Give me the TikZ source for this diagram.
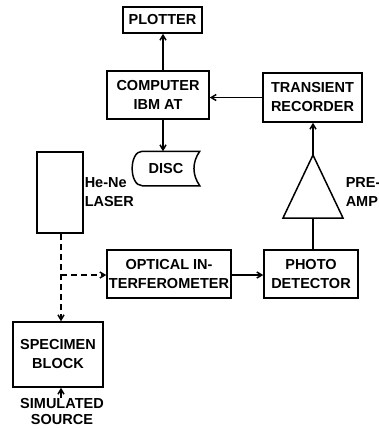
\documentclass[tikz,border=0pt]{standalone}
\usepackage{fontspec}
\setmainfont{Liberation Sans}
\usepackage{tikz}
\usetikzlibrary{arrows.meta}

\begin{document}
\begin{tikzpicture}[x=1pt, y=-1pt, line width=1.5pt, >={Straight Barb[length=5pt,width=6pt]},
  every node/.style={font=\bfseries\fontsize{14.5}{19}\selectfont, align=center, inner sep=0pt},
  blk/.style={draw, rectangle}, beam/.style={dash pattern=on 6pt off 4pt}]
\useasboundingbox (0,0) rectangle (379,429);
\node[blk, minimum width=79pt, minimum height=26pt] (plotter) at (162.5,20) {PLOTTER};
\node[blk, minimum width=102pt, minimum height=48pt] (computer) at (158,95) {COMPUTER\\IBM AT};
\node[blk, minimum width=99pt, minimum height=49pt] (recorder) at (312.5,97.5) {TRANSIENT\\RECORDER};
\node[minimum width=66pt, minimum height=33pt] (disc) at (166,168.5) {DISC};
\node[blk, minimum width=46pt, minimum height=81pt] (laser) at (60,192.5) {};
\node[anchor=west, align=left] (lasertxt) at (84,192) {He-Ne\\LASER};
\node[blk, minimum width=124pt, minimum height=48pt] (optic) at (169,274) {OPTICAL IN-\\TERFEROMETER};
\node[blk, minimum width=94pt, minimum height=48pt] (detector) at (311,274) {PHOTO\\DETECTOR};
\node[blk, minimum width=90pt, minimum height=65pt] (specimen) at (58,354.5) {SPECIMEN\\BLOCK};
\node[font=\bfseries\fontsize{14.5}{16}\selectfont] (source) at (62,412) {SIMULATED\\SOURCE};
\node[anchor=west, align=left] (amptxt) at (345,192) {PRE-\\AMP};
\coordinate (amptop) at (313,155);
\coordinate (ampbot) at (313,218);
\coordinate (split) at (61,275);

% disc outline
\draw ([xshift=10pt]disc.north west) to[out=180,in=180] ([xshift=10pt]disc.south west)
  -- (disc.south east) to[out=125,in=235] (disc.north east) -- cycle;
% pre-amplifier
\draw (amptop) -- ([xshift=-30pt]ampbot) -- ([xshift=30pt]ampbot) -- cycle;

\draw[->] (computer.north -| 163,0) -- (plotter.south -| 163,0);
\draw[->] (computer.south -| 163,0) -- (disc.north -| 163,0);
\draw[->] (recorder.west) -- (recorder.west -| computer.east);
\draw[->] (amptop) -- (recorder.south -| amptop);
\draw (detector.north -| ampbot) -- (ampbot);
\draw[->] (optic.east |- split) -- (detector.west |- split);
\draw[beam, ->] (laser.south -| split) -- (specimen.north -| split);
\draw[beam, ->] (split) -- (optic.west |- split);
\draw[->] (source.north -| split) -- (specimen.south -| split);
\end{tikzpicture}
\end{document}
